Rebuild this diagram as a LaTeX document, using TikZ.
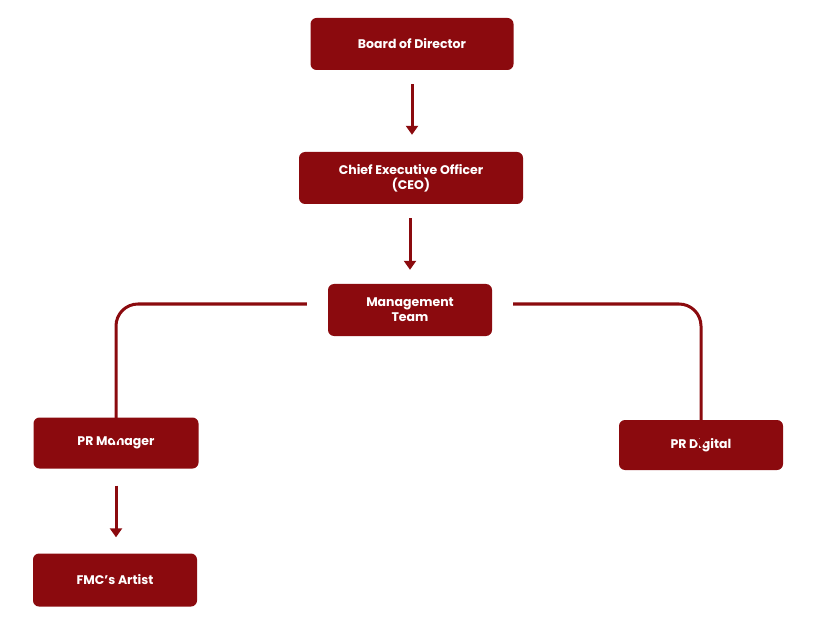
\documentclass[tikz,border=0pt]{standalone}
\usepackage{fontspec}
\setmainfont{Poppins}
\usetikzlibrary{arrows.meta}
\definecolor{dr}{HTML}{8B0A0E}
\begin{document}
\begin{tikzpicture}[x=1pt,y=-1pt,
  box/.style={fill=dr,rounded corners=6pt,text=white,font=\bfseries\fontsize{12.5}{15}\selectfont,align=center,inner sep=0pt},
  arr/.style={draw=dr,line width=3pt,-{Triangle[length=9pt,width=12pt]}}]
\useasboundingbox (0,0) rectangle (819,628);
\node[box,minimum width=203pt,minimum height=52pt] (b) at (412,44) {Board of Director};
\node[box,minimum width=224pt,minimum height=52pt] (c) at (411,178) {Chief Executive Officer\\(CEO)};
\node[box,minimum width=164pt,minimum height=52pt] (m) at (410,310) {Management\\Team};
\node[box,minimum width=165pt,minimum height=51pt] (pm) at (116,443) {PR Manager};
\node[box,minimum width=164pt,minimum height=50pt] (pd) at (701,445) {PR Digital};
\node[box,minimum width=164pt,minimum height=53pt] (f) at (115,580) {FMC’s Artist};
\draw[arr,shorten <=14pt,shorten >=17pt] (b.south) -- (c.north -| b.south);
\draw[arr,shorten <=14pt,shorten >=14pt] (c.south -| m.north) -- (m.north);
\draw[arr,shorten <=17pt,shorten >=16pt] (pm.south) -- (f.north -| pm.south);
\coordinate (ml) at ([xshift=-21pt,yshift=6pt]m.west);
\coordinate (mr) at ([xshift=21pt,yshift=6pt]m.east);
\draw[arr,rounded corners=22pt] (ml) -| ([yshift=-26pt]pm.north);
\draw[arr,rounded corners=22pt] (mr) -| ([yshift=-28pt]pd.north);
\end{tikzpicture}
\end{document}
